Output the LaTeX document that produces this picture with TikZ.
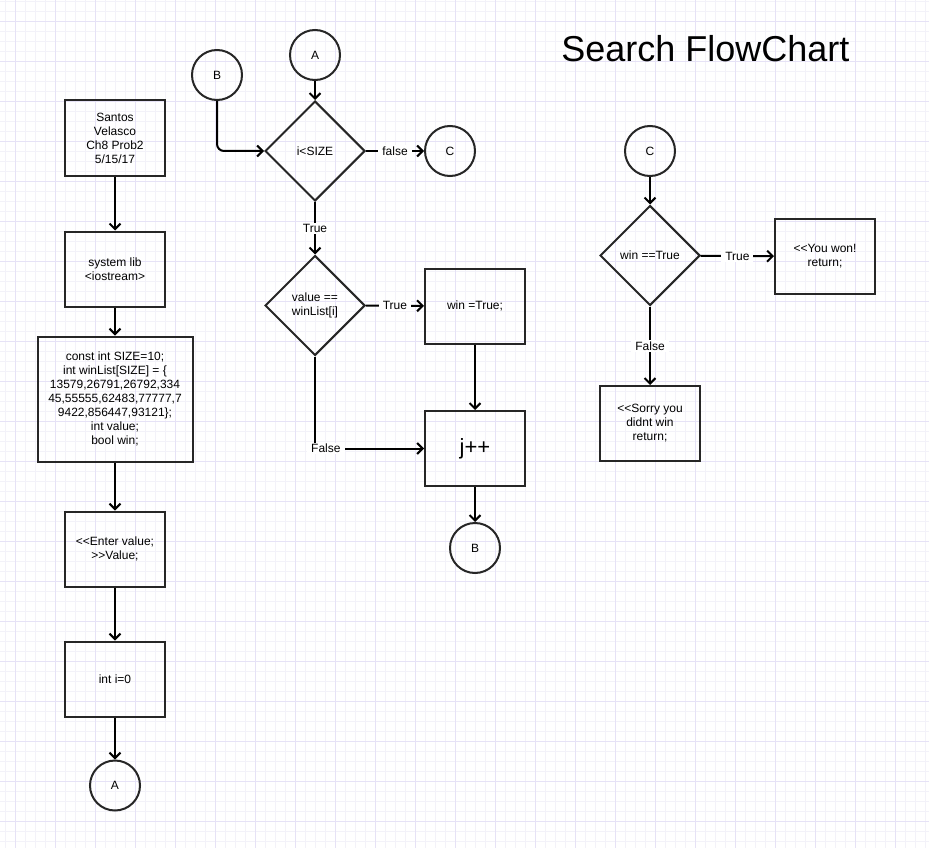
\documentclass[tikz,border=0pt]{standalone}
\usepackage{fontspec}
\setmainfont{Liberation Sans}
\usetikzlibrary{shapes, arrows.meta, positioning}
\definecolor{gmin}{HTML}{F3F2F9}
\definecolor{gmaj}{HTML}{E6E2F6}
\begin{document}
\begin{tikzpicture}[x=1pt, y=1pt, font=\fontsize{12}{14}\selectfont,
	blk/.style={draw=black!85, line width=2pt, minimum width=100pt, minimum height=75pt, align=center, inner sep=2pt},
	dia/.style={draw=black!85, diamond, line width=2pt, minimum width=100pt, minimum height=100pt, inner sep=0pt, align=center},
	circ/.style={draw=black!85, circle, line width=2pt, minimum size=50pt, inner sep=0pt},
	arr/.style={line width=2pt, -{Straight Barb[length=5.5pt, width=11pt]}},
	lbl/.style={fill=white, inner xsep=4pt, inner ysep=1.5pt}]
	\useasboundingbox (0,0) rectangle (929,-848);
	\fill[white] (0,0) rectangle (929,-848);
	\foreach \x in {5.5,15.5,...,925.5} \draw[gmin, line width=1pt] (\x,0) -- (\x,-848);
	\foreach \y in {1.5,11.5,...,841.5} \draw[gmin, line width=1pt] (0,-\y) -- (929,-\y);
	\foreach \x in {15.5,55.5,...,895.5} \draw[gmaj, line width=1pt] (\x,0) -- (\x,-848);
	\foreach \y in {21.5,61.5,...,821.5} \draw[gmaj, line width=1pt] (0,-\y) -- (929,-\y);

	\node[font=\fontsize{36}{44}\selectfont, anchor=base] (h) at (705.5,-62) {Search FlowChart};

	\node[blk] (s) at (115,-138) {Santos\\Velasco\\Ch8 Prob2\\5/15/17};
	\node[blk, below =54pt of s] (l) {system lib\\<iostream>};
	\node[blk, below =28pt of l, minimum width=155pt, minimum height=125pt] (d) {const int SIZE=10;\\int winList[SIZE] = \{\\13579,26791,26792,334\\45,55555,62483,77777,7\\9422,856447,93121\};\\int value;\\bool win;};
	\node[blk, below =48pt of d] (e) {<\kern0pt<Enter value;\\>\kern0pt>Value;};
	\node[blk, below =53pt of e] (i) {int i=0};
	\node[circ, below =42pt of i] (a1) {A};

	\node[circ] (a2) at (315,-55) {A};
	\node[circ] (b1) at (217,-75) {B};
	\node[dia] (c1) at (315,-151) {i<SIZE};
	\node[circ] (c2) at (450,-151) {C};
	\node[dia] (v) at (315,-305.5) {value ==\\winList[i]};
	\node[blk] (w) at (475,-306) {win =True;};
	\node[blk, font=\fontsize{22}{26}\selectfont] (j) at (475,-448.5) {j++};
	\node[circ] (b2) at (475,-548) {B};

	\node[circ] (c3) at (650,-151) {C};
	\node[dia] (t) at (650,-255.5) {win ==True};
	\node[blk] (y) at (825,-256.5) {<\kern0pt<You won!\\return;};
	\node[blk] (n) at (650,-423.5) {<\kern0pt<Sorry you\\didnt win\\return;};

	\draw[arr] (s) -- (l);
	\draw[arr] (l) -- (d);
	\draw[arr] (d) -- (e);
	\draw[arr] (e) -- (i);
	\draw[arr] (i) -- (a1);
	\draw[arr] (a2) -- (c1);
	\draw[arr, rounded corners=7pt] (b1) |- (c1);
	\draw[arr] (c1) -- node[lbl] {false} (c2);
	\draw[arr] (c1) -- node[lbl] {True} (v);
	\draw[arr] (v) -- node[lbl] {True} (w);
	\draw[arr] (w) -- (j);
	\draw[arr] (v) |- node[lbl, pos=0.55] {False} (j);
	\draw[arr] (j) -- (b2);
	\draw[arr] (c3) -- (t);
	\draw[arr] (t) -- node[lbl] {True} (y);
	\draw[arr] (t) -- node[lbl] {False} (n);
\end{tikzpicture}
\end{document}
